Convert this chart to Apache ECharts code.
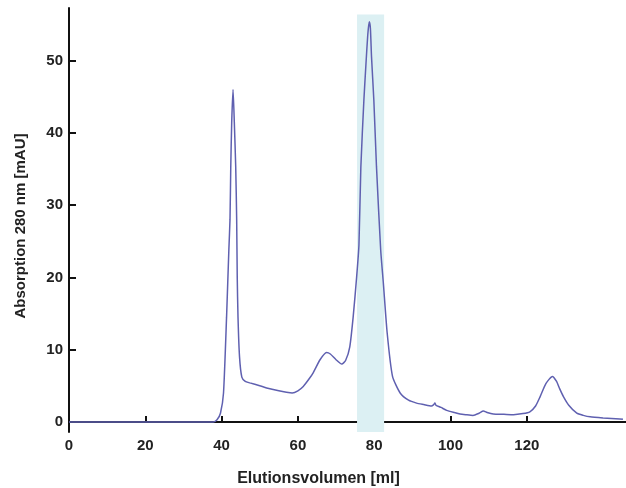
<!DOCTYPE html>
<html>
<head>
<meta charset="utf-8">
<script src="https://cdn.jsdelivr.net/npm/echarts@6/dist/echarts.min.js"></script>
<style>html,body{margin:0;padding:0;background:#fff}#c{width:626px;height:488px}</style>
</head>
<body>
<div id="c"></div>
<script>
// Elution volume (ml)
const volume = [0, 10, 20, 30, 37.8, 38.8, 39.7, 40.5, 41.3, 41.9, 42.2, 42.4, 42.65, 43.0, 43.33, 43.7, 43.95, 44.1, 44.3, 44.7, 45.3, 46.2, 47.4, 50, 51.8, 55, 57, 58.5, 60, 61.4, 63, 64, 65.8, 67.5, 68.5, 70, 71.5, 72.5, 73.6, 74.5, 75.4, 76.0, 76.5, 77.3, 77.8, 78.3, 78.7, 79.0, 79.3, 79.9, 80.6, 81.7, 82.4, 83.4, 84.8, 86.8, 89, 91.1, 93, 95.0, 95.6, 95.9, 96.2, 97.5, 99.0, 101, 102.5, 104, 105.9, 107.5, 108.6, 109.6, 111.2, 114, 116.5, 119, 120.8, 122.3, 123.5, 125, 126.7, 127.8, 128.6, 129.6, 131, 133.1, 134.8, 136.6, 140, 144.4, 145.2];
// Absorption at 280 nm (mAU)
const absorption = [0, 0, 0, 0, 0, 0.3, 1.2, 4, 14.5, 23.8, 28, 35.3, 41.5, 46.0, 41.5, 35.3, 28, 20, 14.5, 9, 6.2, 5.6, 5.4, 5.0, 4.7, 4.3, 4.1, 4.0, 4.3, 4.9, 6.0, 6.8, 8.6, 9.6, 9.4, 8.6, 8.0, 8.5, 10.4, 14.6, 20.1, 24.5, 35.3, 44.6, 49.2, 53.5, 55.4, 54.5, 50.5, 44.6, 35.3, 23.8, 19.2, 12.3, 6.3, 4.0, 3.0, 2.6, 2.4, 2.2, 2.4, 2.6, 2.3, 2.0, 1.6, 1.3, 1.1, 1.0, 0.9, 1.2, 1.5, 1.3, 1.1, 1.05, 1.0, 1.15, 1.4, 2.2, 3.5, 5.3, 6.3, 5.6, 4.6, 3.5, 2.3, 1.2, 0.9, 0.7, 0.55, 0.4, 0.35];
const xTicks = [0, 20, 40, 60, 80, 100, 120];
const yTicks = [0, 10, 20, 30, 40, 50];
// collected fraction (highlighted band)
const bandStart = 75.5;
const bandEnd = 82.6;
const bandTop = 56.4;
const xMin = 0, xMax = 146, yMin = -1.4, yMax = 57.3;

const data = volume.map((v, i) => [v, absorption[i]]);
const font = 'Liberation Sans, Arial, sans-serif';
const chart = echarts.init(document.getElementById('c'), null, {renderer: 'canvas'});
chart.setOption({
  animation: false,
  backgroundColor: '#fff',
  grid: {left: 69, right: 0, top: 8, bottom: 56, containLabel: false, outerBoundsMode: 'none'},
  xAxis: {
    type: 'value', min: xMin, max: xMax,
    name: 'Elutionsvolumen [ml]', nameLocation: 'middle', nameGap: 39,
    nameTextStyle: {fontFamily: font, fontSize: 16, fontWeight: 'bold', color: '#222', padding: [0, 58, 0, 0]},
    axisLine: {show: true, lineStyle: {color: '#111', width: 2}},
    axisTick: {show: true, inside: true, length: 6, lineStyle: {color: '#111', width: 2}, customValues: xTicks},
    axisLabel: {fontFamily: font, fontSize: 15, fontWeight: 'bold', color: '#222', margin: 6, customValues: xTicks},
    splitLine: {show: false}
  },
  yAxis: {
    type: 'value', min: yMin, max: yMax,
    name: 'Absorption 280 nm [mAU]', nameLocation: 'middle', nameGap: 41, nameRotate: 90,
    nameTextStyle: {fontFamily: font, fontSize: 15, fontWeight: 'bold', color: '#222', padding: [0, 12, 0, 0]},
    axisLine: {show: true, lineStyle: {color: '#111', width: 2}},
    axisTick: {show: true, inside: true, length: 7, lineStyle: {color: '#111', width: 2}, customValues: yTicks},
    axisLabel: {fontFamily: font, fontSize: 15, fontWeight: 'bold', color: '#222', margin: 6, customValues: yTicks},
    splitLine: {show: false}
  },
  series: [{
    type: 'line', data: data, showSymbol: false, smooth: 0.2,
    lineStyle: {color: '#5f60b0', width: 1.5},
    markArea: {
      silent: true,
      itemStyle: {color: '#dcf0f3'},
      data: [[{xAxis: bandStart, yAxis: yMin}, {xAxis: bandEnd, yAxis: bandTop}]]
    },
    z: 3
  }]
});
</script>
</body>
</html>
